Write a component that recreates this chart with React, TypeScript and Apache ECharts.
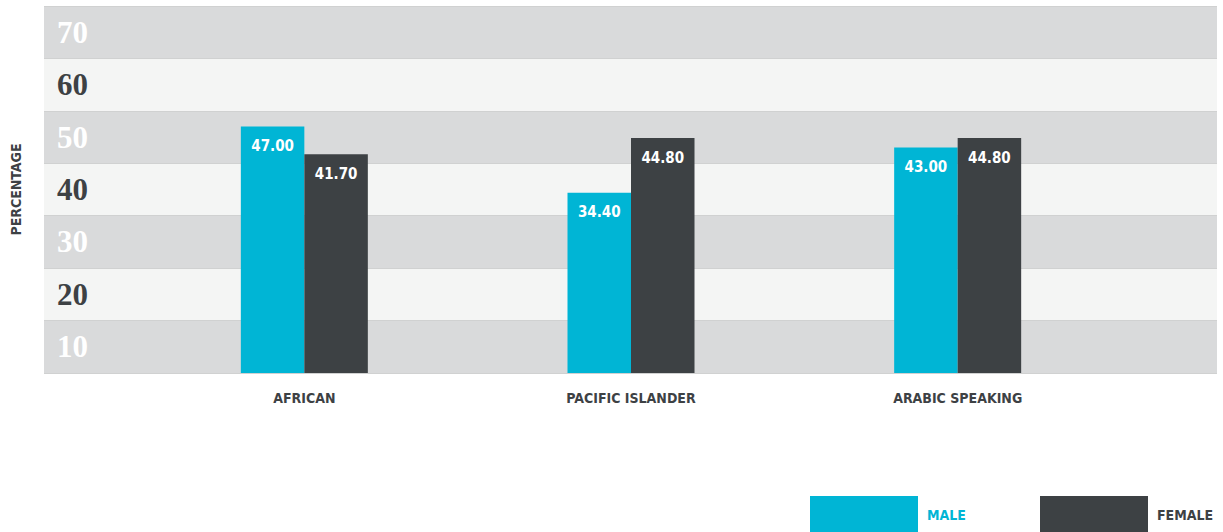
import React, { useEffect, useRef } from "react";
import * as echarts from "echarts";

const categories = ["AFRICAN", "PACIFIC ISLANDER", "ARABIC SPEAKING"];
const maleValues = [47.0, 34.4, 43.0];
const femaleValues = [41.7, 44.8, 44.8];
const bandLabels = ["10", "20", "30", "40", "50", "60", "70"];
const seriesNames = ["MALE", "FEMALE"];

const CYAN = "#00b5d5";
const DARK = "#3d4144";
const BAND_DARK = "#d9dadb";
const BAND_LIGHT = "#f4f5f4";
const NARROW = "'Liberation Sans Narrow', 'DejaVu Sans Condensed', 'Roboto Condensed', sans-serif";

export default function App() {
  const ref = useRef<HTMLDivElement>(null);
  useEffect(() => {
    if (!ref.current) return;
    const chart = echarts.init(ref.current, null, { renderer: "svg" });
    const top = 6;
    const bottom = 159;
    const barLabel = {
      show: true,
      position: "insideTop",
      distance: 12,
      color: "#ffffff",
      fontFamily: NARROW,
      fontWeight: "bold",
      fontSize: 15,
      formatter: (p: any) => Number(p.value).toFixed(2),
    };
    const legendBase = {
      top: 496,
      padding: 0,
      itemWidth: 108,
      itemHeight: 38,
      icon: "rect",
    };
    chart.setOption({
      animation: false,
      grid: [
        { left: 141, right: 102, top, bottom },
        { left: 44, right: 6, top, bottom },
      ],
      legend: [
        {
          ...legendBase,
          data: [seriesNames[0]],
          left: 810,
          textStyle: { color: CYAN, fontFamily: NARROW, fontWeight: "bold", fontSize: 14, padding: [0, 0, 0, 4] },
        },
        {
          ...legendBase,
          data: [seriesNames[1]],
          left: 1040,
          textStyle: { color: DARK, fontFamily: NARROW, fontWeight: "bold", fontSize: 14, padding: [0, 0, 0, 4] },
        },
      ],
      xAxis: [
        {
          type: "category",
          gridIndex: 0,
          data: categories,
          axisLine: { show: false },
          axisTick: { show: false },
          axisLabel: { color: DARK, fontFamily: NARROW, fontWeight: "bold", fontSize: 14, margin: 18 },
        },
        { type: "value", gridIndex: 1, show: false },
      ],
      yAxis: [
        {
          type: "value",
          gridIndex: 0,
          min: 0,
          max: 70,
          interval: 10,
          show: false,
          splitLine: { show: false },
        },
        {
          type: "category",
          gridIndex: 1,
          data: bandLabels.map((v, i) => ({
            value: v,
            textStyle: { color: i % 2 === 0 ? "#ffffff" : DARK },
          })),
          z: 0,
          name: "PERCENTAGE",
          nameLocation: "middle",
          nameRotate: 90,
          nameGap: 21,
          nameTextStyle: { color: DARK, fontFamily: NARROW, fontWeight: "bold", fontSize: 14 },
          axisLine: { show: false },
          axisTick: { show: false },
          axisLabel: {
            inside: true,
            margin: 13,
            fontFamily: "'Liberation Serif', 'DejaVu Serif', serif",
            fontWeight: "bold",
            fontSize: 31,
          },
          splitArea: { show: true, areaStyle: { color: [BAND_DARK, BAND_LIGHT] } },
          splitLine: { show: true, lineStyle: { color: "#d0d1d1", width: 1 } },
        },
      ],
      series: [
        {
          name: seriesNames[0],
          type: "bar",
          xAxisIndex: 0,
          yAxisIndex: 0,
          data: maleValues,
          barWidth: 63.5,
          barGap: "0%",
          itemStyle: { color: CYAN },
          label: barLabel,
          z: 3,
        },
        {
          name: seriesNames[1],
          type: "bar",
          xAxisIndex: 0,
          yAxisIndex: 0,
          data: femaleValues,
          barWidth: 63.5,
          barGap: "0%",
          itemStyle: { color: DARK },
          label: barLabel,
          z: 3,
        },
      ],
    });
    return () => chart.dispose();
  }, []);
  return (
    <div
      ref={ref}
      style={{ position: "fixed", left: 0, top: 0, width: 1223, height: 532, background: "#ffffff" }}
    />
  );
}
